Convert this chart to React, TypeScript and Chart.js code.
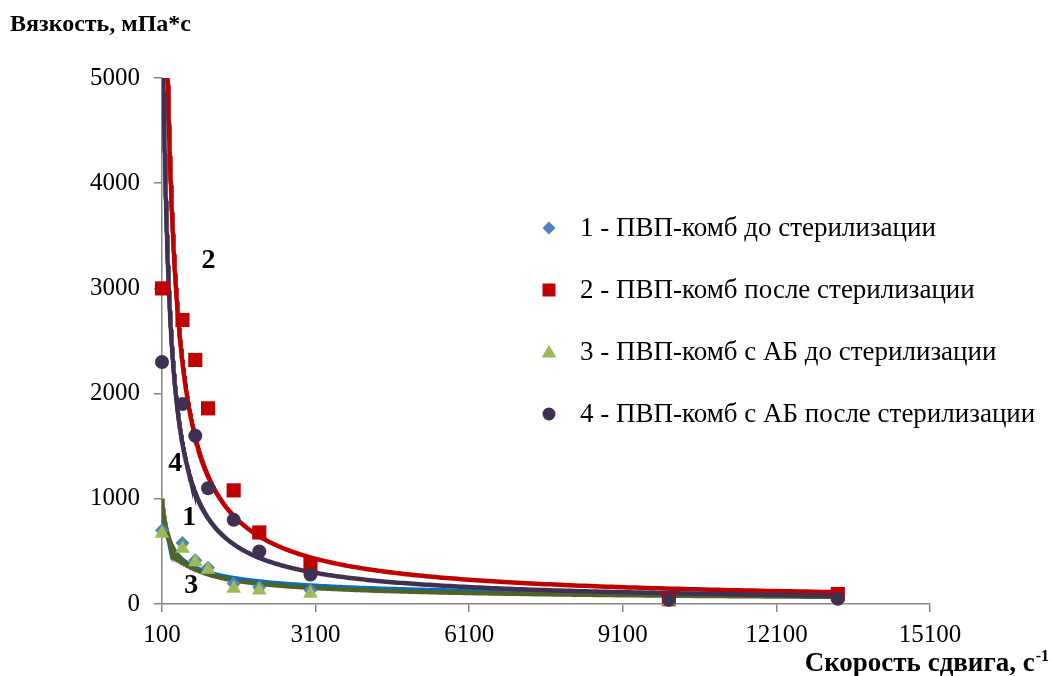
import React, { useEffect, useRef } from 'react';
import { Chart, registerables } from 'chart.js';

Chart.register(...registerables);

// ---- data ----
const SHEAR_RATE = [100, 500, 750, 1000, 1500, 2000, 3000, 10000, 13300];
const VISC_1 = [700, 580, 415, 345, 195, 160, 130, 35, 85];
const VISC_2 = [3000, 2700, 2320, 1860, 1080, 680, 380, 45, 95];
const VISC_3 = [670, 527, 400, 328, 147, 131, 100, 25, 40];
const VISC_4 = [2300, 1900, 1600, 1100, 800, 500, 280, 40, 50];

const SERIES_NAMES = [
  '1 - ПВП-комб до стерилизации',
  '2 - ПВП-комб после стерилизации',
  '3 - ПВП-комб с АБ до стерилизации',
  '4 - ПВП-комб с АБ после стерилизации',
];

const X_TICKS = [100, 3100, 6100, 9100, 12100, 15100];
const Y_TICKS = [0, 1000, 2000, 3000, 4000, 5000];

// power trend lines y = a * x^b (coefficients)
const TREND_A = [8880, 700000, 12600, 410000];
const TREND_B = [-0.49, -0.92, -0.55, -0.9];

// curve number labels (data coordinates)
const CURVE_LABELS = ['1', '2', '3', '4'];
const CURVE_LABEL_X = [633, 1010, 671, 359];
const CURVE_LABEL_Y = [820, 3265, 169, 1334];

const Y_TITLE = 'Вязкость, мПа*с';
const X_TITLE = 'Скорость сдвига, с';
const X_TITLE_SUP = '-1';

// ---- styles ----
const FONT = '"Liberation Serif", "Times New Roman", serif';
const MARKER_COLORS = ['#4F81BD', '#C00000', '#9BBB59', '#403152'];
const TREND_COLORS = ['#0070C0', '#C00000', '#4F6228', '#403152'];
const MARKER_STYLES = ['rectRot', 'rect', 'triangle', 'circle'];
const MARKER_RADII = [7, 10, 8.5, 7];
const AXIS_COLOR = '#868686';

function trendPoints(i: number) {
  const xMin = Math.min(...SHEAR_RATE);
  const xMax = Math.max(...SHEAR_RATE);
  const n = 400;
  const pts: { x: number; y: number }[] = [];
  for (let k = 0; k <= n; k++) {
    const x = xMin * Math.pow(xMax / xMin, k / n);
    pts.push({ x, y: TREND_A[i] * Math.pow(x, TREND_B[i]) });
  }
  return pts;
}

function drawMarker(ctx: CanvasRenderingContext2D, style: string, x: number, y: number, color: string) {
  ctx.fillStyle = color;
  ctx.beginPath();
  if (style === 'rectRot') {
    const r = 6.5;
    ctx.moveTo(x, y - r);
    ctx.lineTo(x + r, y);
    ctx.lineTo(x, y + r);
    ctx.lineTo(x - r, y);
    ctx.closePath();
  } else if (style === 'rect') {
    const s = 6.5;
    ctx.rect(x - s, y - s, 2 * s, 2 * s);
  } else if (style === 'triangle') {
    ctx.moveTo(x, y - 7);
    ctx.lineTo(x + 7.5, y + 5.5);
    ctx.lineTo(x - 7.5, y + 5.5);
    ctx.closePath();
  } else {
    ctx.arc(x, y, 6.5, 0, Math.PI * 2);
  }
  ctx.fill();
}

const overlayPlugin = {
  id: 'overlay',
  afterDraw(chart: any) {
    const { ctx, scales } = chart;
    const xs = scales.x;
    const ys = scales.y;
    ctx.save();
    ctx.fillStyle = '#000';

    // curve numbers
    ctx.font = `bold 28px ${FONT}`;
    ctx.textAlign = 'center';
    ctx.textBaseline = 'middle';
    CURVE_LABELS.forEach((t, i) => {
      ctx.fillText(t, xs.getPixelForValue(CURVE_LABEL_X[i]), ys.getPixelForValue(CURVE_LABEL_Y[i]));
    });

    // legend
    const legendX = 549;
    const legendTextX = 580;
    const legendY0 = 228;
    const legendStep = 62;
    ctx.font = `27px ${FONT}`;
    ctx.textAlign = 'left';
    ctx.textBaseline = 'middle';
    SERIES_NAMES.forEach((name, i) => {
      const yy = legendY0 + i * legendStep;
      drawMarker(ctx, MARKER_STYLES[i], legendX, yy, MARKER_COLORS[i]);
      ctx.fillStyle = '#000';
      ctx.fillText(name, legendTextX, yy + 1);
    });

    // axis titles
    ctx.font = `bold 24px ${FONT}`;
    ctx.textAlign = 'left';
    ctx.textBaseline = 'alphabetic';
    ctx.fillText(Y_TITLE, 10, 31);

    ctx.font = `bold 16px ${FONT}`;
    ctx.textAlign = 'right';
    const supW = ctx.measureText(X_TITLE_SUP).width;
    ctx.fillText(X_TITLE_SUP, 1049, 661);
    ctx.font = `bold 27px ${FONT}`;
    ctx.fillText(X_TITLE, 1049 - supW - 1, 671);

    ctx.restore();
  },
};

export default function App() {
  const canvasRef = useRef<HTMLCanvasElement | null>(null);

  useEffect(() => {
    const canvas = canvasRef.current;
    if (!canvas) return;
    const seriesValues = [VISC_1, VISC_2, VISC_3, VISC_4];

    const markerSets = seriesValues.map((vals, i) => ({
      label: SERIES_NAMES[i],
      data: SHEAR_RATE.map((x, k) => ({ x, y: vals[k] })),
      showLine: false,
      pointStyle: MARKER_STYLES[i],
      pointRadius: MARKER_RADII[i],
      pointBackgroundColor: MARKER_COLORS[i],
      pointBorderColor: MARKER_COLORS[i],
      pointBorderWidth: 0,
      backgroundColor: MARKER_COLORS[i],
      borderColor: MARKER_COLORS[i],
      order: 3 - i,
      clip: false as any,
    }));

    const trendSets = seriesValues.map((_, i) => ({
      label: 'trend ' + (i + 1),
      data: trendPoints(i),
      showLine: true,
      pointRadius: 0,
      borderColor: TREND_COLORS[i],
      borderWidth: 4.5,
      backgroundColor: TREND_COLORS[i],
      tension: 0,
      order: 7 - i,
    }));

    const chart = new Chart(canvas, {
      type: 'scatter',
      data: { datasets: [...markerSets, ...trendSets] as any },
      options: {
        responsive: false,
        animation: false,
        devicePixelRatio: 1,
        layout: { padding: { top: 78, right: 121, left: 0, bottom: 0 } },
        plugins: {
          legend: { display: false },
          tooltip: { enabled: false },
        },
        scales: {
          x: {
            type: 'linear',
            position: 'bottom',
            min: 100,
            max: 15100,
            afterBuildTicks: (scale: any) => {
              scale.ticks = X_TICKS.map((v) => ({ value: v }));
            },
            afterFit: (scale: any) => {
              scale.height = 72;
            },
            ticks: {
              color: '#000',
              font: { family: FONT, size: 25 },
              padding: 8,
              maxRotation: 0,
              autoSkip: false,
              callback: (v: any) => String(v),
            },
            grid: {
              drawOnChartArea: false,
              drawTicks: true,
              tickLength: 8,
              color: AXIS_COLOR,
              lineWidth: 1.5,
            },
            border: { color: AXIS_COLOR, width: 1.5 },
          },
          y: {
            type: 'linear',
            min: 0,
            max: 5000,
            afterBuildTicks: (scale: any) => {
              scale.ticks = Y_TICKS.map((v) => ({ value: v }));
            },
            afterFit: (scale: any) => {
              scale.width = 162;
            },
            ticks: {
              color: '#000',
              font: { family: FONT, size: 25 },
              padding: 14,
              callback: (v: any) => String(v),
            },
            grid: {
              drawOnChartArea: false,
              drawTicks: true,
              tickLength: 8,
              color: AXIS_COLOR,
              lineWidth: 1.5,
            },
            border: { color: AXIS_COLOR, width: 1.5 },
          },
        },
      } as any,
      plugins: [overlayPlugin],
    });

    return () => chart.destroy();
  }, []);

  return (
    <div style={{ position: 'fixed', left: 0, top: 0, width: 1051, height: 676, background: '#fff' }}>
      <canvas ref={canvasRef} width={1051} height={676} style={{ width: 1051, height: 676 }} />
    </div>
  );
}
